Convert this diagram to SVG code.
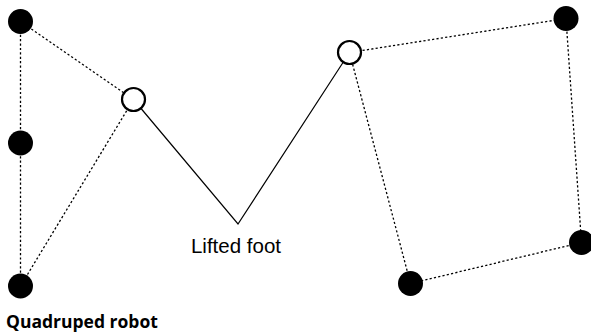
<svg xmlns="http://www.w3.org/2000/svg" width="591" height="334" viewBox="0 0 591 334">
<style>
.dot{stroke:#000;stroke-width:1.3;stroke-dasharray:2.2 2.2;fill:none}
.solid{stroke:#000;stroke-width:1.2;fill:none}
.foot{fill:#000}
.lift{fill:#fff;stroke:#000;stroke-width:2.2}
.lbl{font-family:"Liberation Sans",Arial,sans-serif;font-size:20.5px;fill:#000}
.ttl{font-family:"Open Sans","Noto Sans",sans-serif;font-weight:bold;font-size:17.5px;fill:#000}
</style>
<rect width="591" height="334" fill="#fff"/>
<g id="connectors">
<line class="dot" x1="20.5" y1="21.5" x2="20.5" y2="143"/>
<line class="dot" x1="20.5" y1="143" x2="20.5" y2="286"/>
<line class="dot" x1="20.5" y1="21.5" x2="133.5" y2="99.5"/>
<line class="dot" x1="133.5" y1="99.5" x2="20.5" y2="286"/>
<line class="dot" x1="349.5" y1="52.5" x2="566" y2="18.5"/>
<line class="dot" x1="566" y1="18.5" x2="581.5" y2="242.5"/>
<line class="dot" x1="581.5" y1="242.5" x2="410.5" y2="283.5"/>
<line class="dot" x1="410.5" y1="283.5" x2="349.5" y2="52.5"/>
<polyline class="solid" points="133.5,99.5 238,224 349.5,52.5"/>
</g>
<g id="foot-tl"><circle class="foot" cx="20.5" cy="21.5" r="12.5"/></g>
<g id="foot-ml"><circle class="foot" cx="20.5" cy="143" r="12.5"/></g>
<g id="foot-bl"><circle class="foot" cx="20.5" cy="286" r="12.5"/></g>
<g id="joint-1"><circle class="lift" cx="133.5" cy="99.5" r="11.5"/></g>
<g id="joint-2"><circle class="lift" cx="349.5" cy="52.5" r="11.5"/></g>
<g id="foot-tr"><circle class="foot" cx="566" cy="18.5" r="12.5"/></g>
<g id="foot-br"><circle class="foot" cx="581.5" cy="242.5" r="12.5"/></g>
<g id="foot-bm"><circle class="foot" cx="410.5" cy="283.5" r="12.5"/></g>
<g id="label-lifted"><text class="lbl" x="236" y="253" text-anchor="middle">Lifted foot</text></g>
<g id="title"><text class="ttl" x="6" y="328">Quadruped robot</text></g>
</svg>
